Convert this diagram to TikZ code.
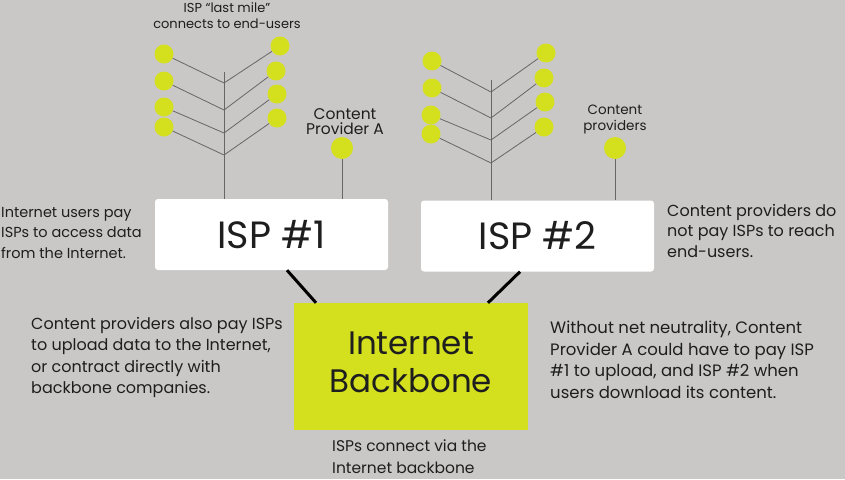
\documentclass[tikz,border=0pt]{standalone}
\usepackage{fontspec}
\setmainfont{Poppins}
\usepackage{tikz}
\usetikzlibrary{positioning}

\definecolor{bggrey}{HTML}{C9C8C6}
\definecolor{lime}{HTML}{D4E01E}
\definecolor{ink}{HTML}{1E1E1E}

\tikzset{
  leaf/.style={circle, fill=lime, minimum size=19pt, inner sep=0pt},
  source/.style={circle, fill=lime, minimum size=22pt, inner sep=0pt},
  ispbox/.style={fill=white, rounded corners=3pt, minimum width=233pt, minimum height=71pt, text=ink, font=\fontsize{38}{38}\selectfont},
  corebox/.style={fill=lime, minimum width=234pt, minimum height=127pt},
  corelbl/.style={align=center, inner sep=0pt, text=ink, font=\fontsize{32.5}{38}\selectfont},
  twig/.style={draw=black!60, line width=0.8pt},
  link/.style={draw=black, line width=3pt},
  note/.style={align=left, anchor=north west, inner sep=0pt, text=ink},
  tag/.style={align=center, anchor=north, inner sep=0pt, text=ink, font=\fontsize{13}{16}\selectfont},
}

\begin{document}
\begin{tikzpicture}[x=1pt, y=-1pt]
  \useasboundingbox[fill=bggrey] (0,0) rectangle (845,479);
  % boxes %
  \node[ispbox] (isp1) at (271.5,234.5) {ISP \#1};
  \node[ispbox] (isp2) at (537.5,236) {ISP \#2};
  \node[corebox] (core) at (411,366.5) {};
  \node[corelbl] (coretext) at ([yshift=4pt]core.center) {Internet\\Backbone};
  % tree of ISP 1 %
  \coordinate (t1) at (224,72);
  \coordinate (j1) at (224,83);
  \coordinate (j2) at (224,110);
  \coordinate (j3) at (224,133);
  \coordinate (j4) at (224,155);
  \node[leaf] (l1) at (164,54) {};
  \node[leaf] (l2) at (164,81) {};
  \node[leaf] (l3) at (164,107) {};
  \node[leaf] (l4) at (164,127) {};
  \node[leaf] (r1) at (280,46) {};
  \node[leaf] (r2) at (276,71) {};
  \node[leaf] (r3) at (277,94) {};
  \node[leaf] (r4) at (277,118) {};
  % tree of ISP 2 %
  \coordinate (t2) at (491,80);
  \coordinate (k1) at (491,92);
  \coordinate (k2) at (491,118);
  \coordinate (k3) at (491,140);
  \coordinate (k4) at (491,163);
  \node[leaf] (m1) at (432,61) {};
  \node[leaf] (m2) at (432,88) {};
  \node[leaf] (m3) at (431,115) {};
  \node[leaf] (m4) at (431,134) {};
  \node[leaf] (s1) at (546,53) {};
  \node[leaf] (s2) at (544,78) {};
  \node[leaf] (s3) at (545,102) {};
  \node[leaf] (s4) at (544,127) {};
  % content providers %
  \node[source] (cpa) at (342,148) {};
  \node[source] (cpb) at (615,148) {};
  % labels %
  \node[tag] (milelbl) at (227,2) {ISP “last mile”\\connects to end-users};
  \node[tag, font=\fontsize{15.5}{15.5}\selectfont] (cpalbl) at (345,108) {Content\\Provider A};
  \node[tag, font=\fontsize{13.5}{16}\selectfont] (cpblbl) at (615,105) {Content\\providers};
  \node[note, font=\fontsize{14.5}{20.5}\selectfont] (usersnote) at (1,207) {Internet users pay\\ISPs to access data\\from the Internet.};
  \node[note, font=\fontsize{16}{20.5}\selectfont] (nopaynote) at (667,204) {Content providers do\\not pay ISPs to reach\\end-users.};
  \node[note, font=\fontsize{16}{21.5}\selectfont] (alsonote) at (31,317) {Content providers also pay ISPs\\to upload data to the Internet,\\or contract directly with\\backbone companies.};
  \node[note, font=\fontsize{16.5}{21.5}\selectfont] (neutralnote) at (550,321) {Without net neutrality, Content\\Provider A could have to pay ISP\\\#1 to upload, and ISP \#2 when\\users download its content.};
  \node[note, font=\fontsize{15.5}{22}\selectfont] (vianote) at (332,439) {ISPs connect via the\\Internet backbone};
  % edges %
  \draw[twig] (t1) -- (isp1.north -| t1);
  \draw[twig] (l1) -- (j1) -- (r1);
  \draw[twig] (l2) -- (j2) -- (r2);
  \draw[twig] (l3) -- (j3) -- (r3);
  \draw[twig] (l4) -- (j4) -- (r4);
  \draw[twig] (t2) -- (isp2.north -| t2);
  \draw[twig] (m1) -- (k1) -- (s1);
  \draw[twig] (m2) -- (k2) -- (s2);
  \draw[twig] (m3) -- (k3) -- (s3);
  \draw[twig] (m4) -- (k4) -- (s4);
  \draw[twig] (cpa) -- (isp1.north -| cpa);
  \draw[twig] (cpb) -- (isp2.north -| cpb);
  \draw[link] ([xshift=15.5pt]isp1.south) -- ([xshift=-95pt]core.north);
  \draw[link] ([xshift=-17.5pt]isp2.south) -- ([xshift=77pt]core.north);
\end{tikzpicture}
\end{document}
